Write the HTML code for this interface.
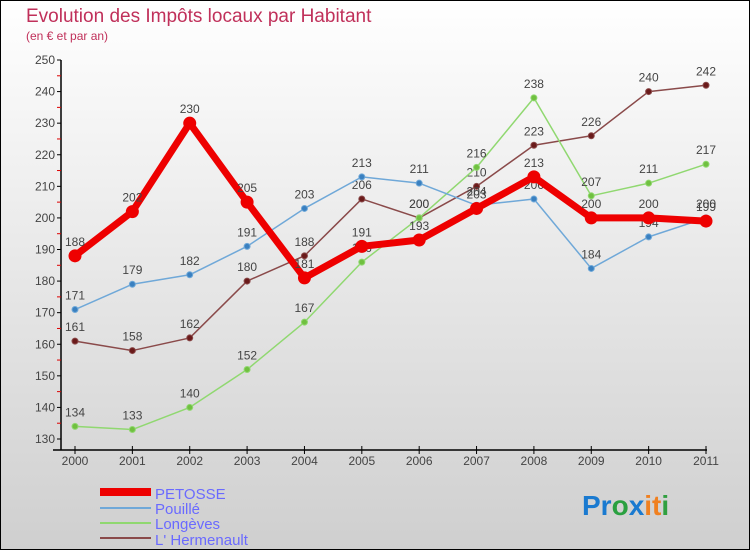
<!DOCTYPE html>
<html><head><meta charset="utf-8"><style>
body{margin:0;width:750px;height:550px;overflow:hidden;font-family:"Liberation Sans",sans-serif}
svg text{font-family:"Liberation Sans",sans-serif}
</style></head><body>
<svg id="c" width="750" height="550" viewBox="0 0 750 550">
<defs><linearGradient id="bg" x1="0" y1="0" x2="0" y2="1"><stop offset="0" stop-color="#ffffff"/><stop offset="1" stop-color="#cfcfcf"/></linearGradient></defs>
<rect x="0.5" y="0.5" width="749" height="549" fill="url(#bg)" stroke="#000"/>
<text x="26" y="22" font-size="19" fill="#c0305a">Evolution des Impôts locaux par Habitant</text>
<text x="26" y="40" font-size="12" fill="#c0305a">(en € et par an)</text>
<g id="axes"></g><g id="series"></g>
<g>
<line x1="100" y1="492" x2="151" y2="492" stroke="#e00" stroke-width="8"/>
<text x="155" y="499" font-size="15" fill="#6a6aff">PETOSSE</text>
<line x1="100" y1="508" x2="151" y2="508" stroke="#6fa8d8" stroke-width="2"/>
<text x="155" y="514" font-size="15" fill="#6a6aff">Pouillé</text>
<line x1="100" y1="523" x2="151" y2="523" stroke="#90d870" stroke-width="2"/>
<text x="155" y="529" font-size="15" fill="#6a6aff">Longèves</text>
<line x1="100" y1="538" x2="151" y2="538" stroke="#8a4a4a" stroke-width="2"/>
<text x="155" y="545" font-size="15" fill="#6a6aff">L' Hermenault</text>
</g>
<g font-size="28" font-weight="bold">
<text x="582" y="515" fill="#1a7ad0">Pr<tspan fill="#2aa040">o</tspan><tspan fill="#1a7ad0">x</tspan><tspan fill="#f08020">it</tspan><tspan fill="#30a040">i</tspan></text>
</g>
</svg>
<script>
const years=["2000","2001","2002","2003","2004","2005","2006","2007","2008","2009","2010","2011"];
const yTicks=[130,140,150,160,170,180,190,200,210,220,230,240,250];
const petosse=[188,202,230,205,181,191,193,203,213,200,200,199];
const pouille=[171,179,182,191,203,213,211,204,206,184,194,200];
const longeves=[134,133,140,152,167,186,200,216,238,207,211,217];
const hermenault=[161,158,162,180,188,206,200,210,223,226,240,242];
const NS="http://www.w3.org/2000/svg";
function X(i){return 75+i*(706-75)/11;}
function Y(v){return 439-(v-130)*(439-60)/120;}
function mk(t,a,p){const e=document.createElementNS(NS,t);for(const k in a)e.setAttribute(k,a[k]);p.appendChild(e);return e;}
const ax=document.getElementById('axes');
let l=mk('line',{x1:61,y1:60,x2:61,y2:450,stroke:'#000','stroke-width':1.5},ax);


l=mk('line',{x1:53,y1:450,x2:707,y2:450,stroke:'#000','stroke-width':1.5},ax);


yTicks.forEach((v,i)=>{
 mk('line',{x1:57,y1:Y(v),x2:61,y2:Y(v),stroke:'#000'},ax);
 if(i<yTicks.length-1)mk('line',{x1:57,y1:Y(v+5),x2:61,y2:Y(v+5),stroke:'#d00'},ax);
 const t=mk('text',{x:55,y:Y(v)+4,'font-size':12,fill:'#444','text-anchor':'end'},ax);
 t.textContent=v;
 
 
});
years.forEach((y,i)=>{
 mk('line',{x1:X(i),y1:446,x2:X(i),y2:454,stroke:'#000'},ax);
 const t=mk('text',{x:X(i),y:465,'font-size':12,fill:'#444','text-anchor':'middle'},ax);
 t.textContent=y;
 
 
});
const sg=document.getElementById('series');
function draw(data,color,w,r,name,dot){
 const g=mk('g',{},sg);
 
 
 const p=mk('polyline',{points:data.map((v,i)=>X(i)+','+Y(v)).join(' '),fill:'none',stroke:color,'stroke-width':w,'stroke-linejoin':'round'},g);
 
 
 data.forEach((v,i)=>{
  const c=mk('circle',{cx:X(i),cy:Y(v),r:r,fill:dot,stroke:color,'stroke-width':1},g);
  
  
  const t=mk('text',{x:X(i),y:Y(v)-10,'font-size':12,fill:'#444','text-anchor':'middle'},g);
  t.textContent=v;
  
  
 });
}
draw(hermenault,'#8a4a4a',1.5,3,'lhermenault','#6a1a1a');
draw(longeves,'#90d870',1.5,3,'longeves','#70c040');
draw(pouille,'#6fa8d8',1.5,3,'pouille','#3a80c0');
draw(petosse,'#ee0000',7,6,'petosse','#ee0000');
</script>
</body></html>
